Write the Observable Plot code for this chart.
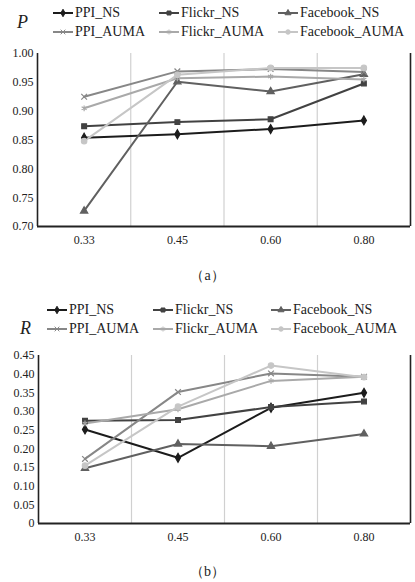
<!DOCTYPE html>
<html><head><meta charset="utf-8">
<script src="https://cdn.jsdelivr.net/npm/d3@7"></script>
<script src="https://cdn.jsdelivr.net/npm/@observablehq/plot@0.6"></script>
<style>
body{margin:0;background:#fff;}
#wrap{position:relative;width:415px;height:582px;overflow:hidden;color:#222;}
.leg{position:absolute;font-size:14px;line-height:16px;white-space:nowrap;display:flex;align-items:center;}
.leg svg{margin-right:1px;}
.ylab{position:absolute;font-style:italic;font-size:18px;}
.cap{position:absolute;font-size:14px;width:415px;text-align:center;}
</style></head>
<body><div id="wrap"></div>
<script>
const categories = ["0.33","0.45","0.60","0.80"];
const series = ["PPI_NS","Flickr_NS","Facebook_NS","PPI_AUMA","Flickr_AUMA","Facebook_AUMA"];
const colors = ["#1c1c1c","#424242","#606060","#878787","#a9a9a9","#c6c6c6"];
const symbols = ["diamond","square","triangle","times","asterisk","circle"];
const d3symbols = [d3.symbolDiamond,d3.symbolSquare,d3.symbolTriangle,d3.symbolTimes,d3.symbolAsterisk,d3.symbolCircle];

const pValues = {
  PPI_NS:        [0.854, 0.860, 0.869, 0.884],
  Flickr_NS:     [0.874, 0.881, 0.886, 0.948],
  Facebook_NS:   [0.727, 0.951, 0.934, 0.964],
  PPI_AUMA:      [0.925, 0.969, 0.973, 0.968],
  Flickr_AUMA:   [0.905, 0.957, 0.960, 0.955],
  Facebook_AUMA: [0.848, 0.963, 0.975, 0.975]
};
const rValues = {
  PPI_NS:        [0.252, 0.176, 0.310, 0.350],
  Flickr_NS:     [0.275, 0.277, 0.312, 0.327],
  Facebook_NS:   [0.148, 0.213, 0.207, 0.240],
  PPI_AUMA:      [0.173, 0.352, 0.402, 0.393],
  Flickr_AUMA:   [0.268, 0.306, 0.382, 0.393],
  Facebook_AUMA: [0.155, 0.313, 0.423, 0.392]
};
const pTicks = [0.70,0.75,0.80,0.85,0.90,0.95,1.00];
const rTicks = [0,0.05,0.10,0.15,0.20,0.25,0.30,0.35,0.40,0.45];

// pick an installed serif family
const ctx = document.createElement("canvas").getContext("2d");
function w(f){ ctx.font = "20px " + f; return ctx.measureText("PPI_NS Facebook 0.85 AUMA").width; }
const candidates = ["Liberation Serif","DejaVu Serif","Noto Serif","Tinos","Times New Roman","FreeSerif"];
let serifName = null;
for (const c of candidates) {
  if (w(`"${c}", monospace`) !== w("monospace") || w(`"${c}", sans-serif`) !== w("sans-serif")) { serifName = c; break; }
}
const FONT = (serifName ? `"${serifName}", ` : "") + 'serif';
const wrap = document.getElementById("wrap");
wrap.style.fontFamily = FONT;

function table(values){
  const rows = [];
  series.forEach(s => values[s].forEach((v,i) => rows.push({series:s, i, value:v})));
  return rows;
}

function chart(values, ticks, fmt, opts){
  const data = table(values);
  const ymin = ticks[0], ymax = ticks[ticks.length-1];
  const bounds = categories.slice(1).map((c,i) => i + 0.5);
  const p = Plot.plot({
    width: 415, height: opts.height,
    marginLeft: opts.ml, marginRight: 5, marginTop: opts.mt, marginBottom: opts.mb,
    style: {fontFamily: FONT, fontSize: "12px", color: "#222", background: "transparent"},
    x: {domain: [-0.5, categories.length - 0.5], ticks: d3.range(categories.length), tickFormat: i => categories[i], tickSize: 0, tickPadding: 9, label: null},
    y: {domain: [ymin, ymax], ticks: ticks, tickFormat: fmt, tickSize: 0, tickPadding: 4, label: null},
    color: {domain: series, range: colors},
    symbol: {domain: series, range: symbols},
    marks: [
      Plot.ruleX(bounds, {y1: ymin, y2: ymax, stroke: "#d0d0d0", strokeWidth: 1.2}),
      Plot.ruleX([categories.length - 0.5], {y1: ymin, y2: ymax, stroke: "#222", strokeWidth: 1.6}),
      Plot.ruleX([-0.5], {y1: ymin, y2: ymax, stroke: "#222", strokeWidth: 1.6}),
      Plot.ruleY([ymin], {stroke: "#222", strokeWidth: 1.8}),
      Plot.line(data, {x: "i", y: "value", z: "series", stroke: "series", strokeWidth: 2}),
      Plot.dot(data, {x: "i", y: "value", symbol: "series", fill: "series", stroke: "series", strokeWidth: 1.2, r: 2.7})
    ]
  });
  p.style.position = "absolute";
  p.style.left = "0px";
  p.style.top = opts.top + "px";
  wrap.appendChild(p);
}

function legend(rowsY, colsX){
  series.forEach((s,k) => {
    const row = Math.floor(k/3), col = k % 3;
    const div = document.createElement("div");
    div.className = "leg";
    div.style.left = colsX[col] + "px";
    div.style.top = (rowsY[row] - 8) + "px";
    const svg = d3.create("svg").attr("width", 21).attr("height", 16);
    svg.append("line").attr("x1",0).attr("x2",20).attr("y1",8).attr("y2",8).attr("stroke",colors[k]).attr("stroke-width",2);
    const stroked = symbols[k] === "times" || symbols[k] === "asterisk";
    svg.append("path").attr("transform","translate(10,8)")
      .attr("d", d3.symbol(d3symbols[k], 16)())
      .attr("fill", stroked ? "none" : colors[k]).attr("stroke", colors[k]).attr("stroke-width", 1);
    div.appendChild(svg.node());
    const t = document.createElement("span");
    t.textContent = s;
    div.appendChild(t);
    wrap.appendChild(div);
  });
}

function label(text, x, y, cls){
  const d = document.createElement("div");
  d.className = cls;
  d.textContent = text;
  d.style.left = x + "px";
  d.style.top = y + "px";
  wrap.appendChild(d);
}

// (a) P chart
label("P", 17, 12, "ylab");
legend([13, 32], [53, 159, 278]);
chart(pValues, pTicks, d => d.toFixed(2), {top: 40, height: 212, mt: 13, mb: 26, ml: 37});
label("（a）", 0, 267, "cap");

// (b) R chart
label("R", 20, 318, "ylab");
legend([310, 329], [47, 153, 271]);
chart(rValues, rTicks, d => d === 0 ? "0" : d.toFixed(2), {top: 340, height: 212, mt: 15, mb: 29, ml: 38});
label("（b）", 0, 563, "cap");
</script></body></html>
